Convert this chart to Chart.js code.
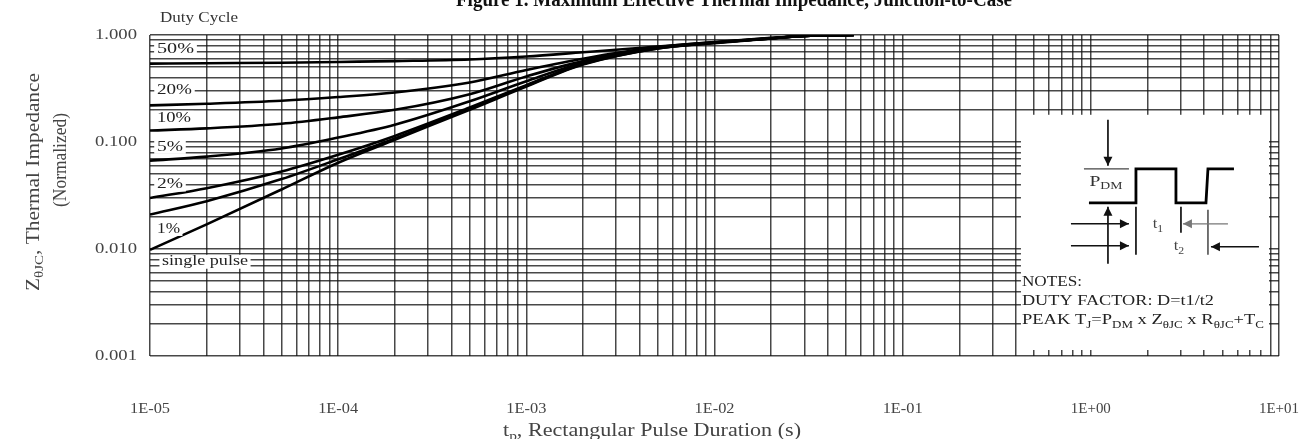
<!DOCTYPE html>
<html><head><meta charset="utf-8">
<script src="https://cdn.jsdelivr.net/npm/chart.js@4.4.0/dist/chart.umd.min.js"></script>
<style>html,body{margin:0;padding:0;background:#fff;} #wrap{width:1303px;height:439px;position:relative;}</style>
</head><body><div id="wrap"><canvas id="c"></canvas></div>
<script>
// ---- data ----
const pulseDuration = [1e-5, 2e-5, 5e-5, 1e-4, 2e-4, 5e-4, 1e-3, 2e-3, 5e-3, 1e-2, 2e-2, 3e-2, 5.5e-2];
const duty50 = [0.54, 0.545, 0.55, 0.56, 0.57, 0.59, 0.63, 0.69, 0.78, 0.86, 0.94, 0.98, 1.0];
const duty20 = [0.22, 0.228, 0.243, 0.263, 0.29, 0.36, 0.47, 0.60, 0.77, 0.855, 0.935, 0.98, 1.0];
const duty10 = [0.128, 0.134, 0.148, 0.17, 0.20, 0.28, 0.41, 0.57, 0.765, 0.85, 0.93, 0.98, 1.0];
const duty5 = [0.067, 0.073, 0.087, 0.11, 0.145, 0.24, 0.37, 0.55, 0.76, 0.85, 0.93, 0.98, 1.0];
const duty2 = [0.030, 0.037, 0.053, 0.076, 0.114, 0.21, 0.34, 0.54, 0.755, 0.845, 0.93, 0.98, 1.0];
const duty1 = [0.021, 0.028, 0.045, 0.069, 0.108, 0.205, 0.335, 0.535, 0.75, 0.845, 0.93, 0.98, 1.0];
const singlePulse = [0.0098, 0.017, 0.036, 0.064, 0.105, 0.20, 0.33, 0.53, 0.75, 0.84, 0.93, 0.98, 1.0];
const seriesNames = ['50%', '20%', '10%', '5%', '2%', '1%', 'single pulse'];
const seriesValues = [duty50, duty20, duty10, duty5, duty2, duty1, singlePulse];
const xTickValues = [1e-5, 1e-4, 1e-3, 1e-2, 1e-1, 1, 10];
const xTickLabels = ['1E-05', '1E-04', '1E-03', '1E-02', '1E-01', '1E+00', '1E+01'];
const yTickValues = [0.001, 0.01, 0.1, 1];
const yTickLabels = ['0.001', '0.010', '0.100', '1.000'];

// ---- text helper ----
const SERIF = '"Liberation Serif", "Times New Roman", serif';
function rich(ctx, parts, x, y, o) {
  ctx.save();
  ctx.translate(x, y);
  if (o.rot) ctx.rotate(o.rot);
  const w = o.weight || 'normal';
  let total = 0;
  const m = parts.map(p => {
    const s = p.sub ? o.size * 0.7 : o.size;
    ctx.font = `${w} ${s}px ${SERIF}`;
    const mw = ctx.measureText(p.t).width;
    total += mw;
    return { p, s, mw };
  });
  let hs = o.hs || 1;
  if (o.fit) hs = o.fit / total;
  ctx.scale(hs, 1);
  let cx = o.align === 'center' ? -total / 2 : (o.align === 'right' ? -total : 0);
  if (o.bg) {
    ctx.fillStyle = o.bg;
    ctx.fillRect(cx - 2, -o.size * 0.5, total + 4, o.size * 1.0);
  }
  ctx.fillStyle = o.color || '#222';
  ctx.textBaseline = 'middle';
  ctx.textAlign = 'left';
  m.forEach(q => {
    ctx.font = `${w} ${q.s}px ${SERIF}`;
    ctx.fillText(q.p.t, cx, q.p.sub ? o.size * 0.3 : 0);
    cx += q.mw;
  });
  ctx.restore();
}
function arrow(ctx, x1, y1, x2, y2, color, lw) {
  ctx.save();
  ctx.strokeStyle = color; ctx.fillStyle = color; ctx.lineWidth = lw;
  ctx.beginPath(); ctx.moveTo(x1, y1); ctx.lineTo(x2, y2); ctx.stroke();
  const a = Math.atan2(y2 - y1, x2 - x1), L = 9, W = 4.5;
  ctx.beginPath();
  ctx.moveTo(x2, y2);
  ctx.lineTo(x2 - L * Math.cos(a) + W * Math.sin(a), y2 - L * Math.sin(a) - W * Math.cos(a));
  ctx.lineTo(x2 - L * Math.cos(a) - W * Math.sin(a), y2 - L * Math.sin(a) + W * Math.cos(a));
  ctx.closePath(); ctx.fill();
  ctx.restore();
}
function line(ctx, pts, color, lw) {
  ctx.save(); ctx.strokeStyle = color; ctx.lineWidth = lw; ctx.lineJoin = 'miter';
  ctx.beginPath(); pts.forEach((p, i) => i ? ctx.lineTo(p[0], p[1]) : ctx.moveTo(p[0], p[1])); ctx.stroke();
  ctx.restore();
}

const curveLabelPos = [0.74, 0.306, 0.168, 0.09, 0.04, 0.0154, 0.0076];
const curveLabelFit = [37, 35, 34, 26, 26, 23, 86];

const annot = {
  id: 'annot',
  beforeDatasetsDraw(chart) {
    const { ctx, chartArea: ca, scales: { x, y } } = chart;
    const bx = x.getPixelForValue(0.4), by = y.getPixelForValue(0.2);
    ctx.save();
    ctx.fillStyle = '#fff';
    ctx.fillRect(bx + 5, by + 5, ca.right - 10 - (bx + 5), ca.bottom - 6 - (by + 5));
    ctx.restore();
  },
  afterDatasetsDraw(chart) {
    const { ctx, chartArea: ca, scales: { x, y } } = chart;
    seriesNames.forEach((n, i) => {
      const py = y.getPixelForValue(curveLabelPos[i]);
      rich(ctx, [{ t: n }], ca.left + (i === 6 ? 12 : 7), py, { size: 14, fit: curveLabelFit[i], bg: '#fff', color: '#222' });
    });
    const bx = x.getPixelForValue(0.4), by = y.getPixelForValue(0.2);
    const P = (dx, dy) => [bx + dx, by + dy];
    arrow(ctx, ...P(92, 10), ...P(92, 56), '#111', 1.7);
    line(ctx, [P(68, 59), P(113, 59)], '#444', 1.2);
    rich(ctx, [{ t: 'P' }, { t: 'DM', sub: true }], ...P(90, 72), { size: 15, fit: 33, align: 'center', color: '#333' });
    line(ctx, [P(73, 93), P(120, 93), P(120, 59), P(160, 59), P(160, 93), P(190, 93), P(192, 59), P(218, 59)], '#000', 2.8);
    arrow(ctx, ...P(92, 154), ...P(92, 97), '#111', 1.7);
    arrow(ctx, ...P(55, 114), ...P(113, 114), '#111', 1.6);
    arrow(ctx, ...P(55, 136), ...P(113, 136), '#111', 1.6);
    line(ctx, [P(120, 97), P(120, 145)], '#111', 1.7);
    line(ctx, [P(165, 97), P(165, 123)], '#111', 1.7);
    line(ctx, [P(192, 100), P(192, 145)], '#444', 1.5);
    arrow(ctx, ...P(212, 114), ...P(167, 114), '#777', 1.3);
    arrow(ctx, ...P(243, 137), ...P(195, 137), '#111', 1.6);
    rich(ctx, [{ t: 't' }, { t: '1', sub: true }], ...P(142, 115), { size: 14, align: 'center', color: '#444', hs: 1.2 });
    rich(ctx, [{ t: 't' }, { t: '2', sub: true }], ...P(163, 137), { size: 14, align: 'center', color: '#444', hs: 1.2 });
    rich(ctx, [{ t: 'NOTES:' }], ...P(6, 173), { size: 14, fit: 60, color: '#222' });
    rich(ctx, [{ t: 'DUTY FACTOR: D=t1/t2' }], ...P(6, 192), { size: 14, fit: 192, color: '#222' });
    rich(ctx, [{ t: 'PEAK T' }, { t: 'J', sub: true }, { t: '=P' }, { t: 'DM', sub: true }, { t: ' x Z' }, { t: 'θJC', sub: true }, { t: ' x R' }, { t: 'θJC', sub: true }, { t: '+T' }, { t: 'C', sub: true }],
      ...P(6, 211), { size: 14, fit: 242, color: '#222' });
  },
  afterDraw(chart) {
    const { ctx, chartArea: ca, scales: { x, y } } = chart;
    yTickValues.forEach((v, i) => {
      rich(ctx, [{ t: yTickLabels[i] }], ca.left - 13, y.getPixelForValue(v), { size: 14, fit: 42, align: 'right', color: '#444' });
    });
    xTickValues.forEach((v, i) => {
      rich(ctx, [{ t: xTickLabels[i] }], x.getPixelForValue(v), 409, { size: 14, fit: 40, align: 'center', color: '#444' });
    });
    rich(ctx, [{ t: 'Figure 1. Maximum Effective Thermal Impedance, Junction-to-Case' }], 734, 1, { size: 20, weight: 'bold', fit: 556, align: 'center', color: '#111' });
    rich(ctx, [{ t: 'Duty Cycle' }], 199, 18, { size: 14, fit: 78, align: 'center', color: '#333' });
    rich(ctx, [{ t: 't' }, { t: 'p', sub: true }, { t: ', Rectangular Pulse Duration (s)' }], 652, 431, { size: 19, fit: 298, align: 'center', color: '#444' });
    rich(ctx, [{ t: 'Z' }, { t: 'θJC', sub: true }, { t: ', Thermal Impedance' }], 34, 182, { size: 19, fit: 218, align: 'center', color: '#444', rot: -Math.PI / 2 });
    rich(ctx, [{ t: '(Normalized)' }], 61, 160, { size: 19, fit: 94, align: 'center', color: '#444', rot: -Math.PI / 2 });
  }
};

const datasets = seriesNames.map((n, i) => ({
  label: n,
  data: pulseDuration.map((t, k) => ({ x: t, y: seriesValues[i][k] })),
  borderColor: '#000',
  borderWidth: 2.6,
  pointRadius: 0,
  fill: false,
  cubicInterpolationMode: 'monotone'
}));

function decadeTicks(min, max) {
  const out = [];
  for (let e = Math.round(Math.log10(min)); e < Math.round(Math.log10(max)); e++) {
    for (let s = 1; s <= 9; s++) out.push({ value: s * Math.pow(10, e) });
  }
  out.push({ value: max });
  return out;
}
const gridStyle = { color: 'rgba(20,20,20,0.78)', lineWidth: 1.5, drawTicks: false };

new Chart(document.getElementById('c'), {
  type: 'line',
  data: { datasets },
  options: {
    responsive: true,
    maintainAspectRatio: false,
    animation: false,
    layout: { padding: { left: 150, right: 24, top: 35, bottom: 83 } },
    plugins: { legend: { display: false }, tooltip: { enabled: false }, title: { display: false } },
    scales: {
      x: {
        type: 'logarithmic', min: 1e-5, max: 10,
        afterBuildTicks: s => { s.ticks = decadeTicks(1e-5, 10); },
        ticks: { display: false, autoSkip: false },
        grid: gridStyle, border: { display: false }
      },
      y: {
        type: 'logarithmic', min: 0.001, max: 1,
        afterBuildTicks: s => { s.ticks = decadeTicks(0.001, 1); },
        ticks: { display: false, autoSkip: false },
        grid: gridStyle, border: { display: false }
      }
    }
  },
  plugins: [annot]
});
</script>
</body></html>
